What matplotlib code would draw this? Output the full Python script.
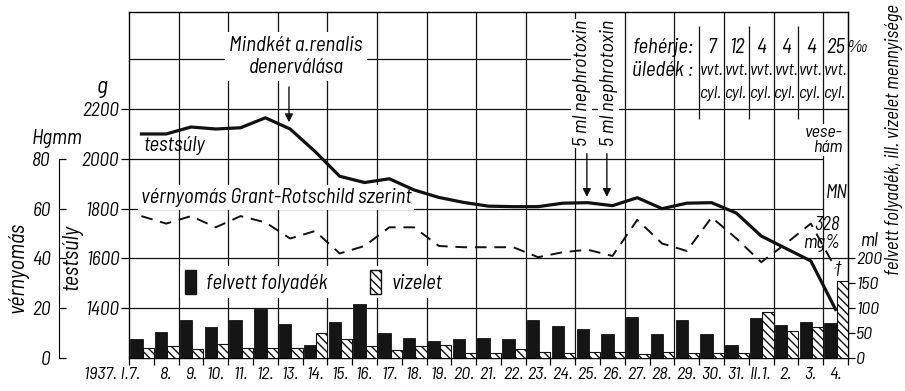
import matplotlib
matplotlib.use("Agg")
import matplotlib.pyplot as plt
from matplotlib.patches import Patch

# day labels (1937 Jan 7 - Feb 4)
day_labels = ["1937. I.7.", "8.", "9.", "10.", "11.", "12.", "13.", "14.", "15.", "16.",
              "17.", "18.", "19.", "20.", "21.", "22.", "23.", "24.", "25.", "26.",
              "27.", "28.", "29.", "30.", "31.", "II.1.", "2.", "3.", "4."]

# body weight, g
testsuly = [2100, 2100, 2128, 2120, 2125, 2165, 2120, 2030, 1930, 1905,
            1920, 1875, 1845, 1825, 1810, 1808, 1808, 1822, 1824, 1812,
            1844, 1800, 1822, 1824, 1782, 1690, 1640, 1590, 1395]

# blood pressure, Hgmm
vernyomas = [57, 54, 57, 52.5, 57, 54.5, 48, 51, 42, 45,
             52.5, 52.5, 45, 44.5, 44.5, 44.5, 40.5, 42.5, 43.5, 41,
             55.5, 46, 43, 56.5, 48, 38.5, 46, 54, 36]

# fluid intake and urine, ml
folyadek = [38, 52, 76, 62, 76, 98, 68, 26, 72, 108,
            50, 40, 34, 38, 40, 38, 76, 64, 58, 48,
            82, 48, 76, 48, 26, 80, 66, 72, 70]
vizelet = [20, 24, 18, 28, 20, 20, 20, 50, 38, 24,
           16, 24, 26, 10, 10, 18, 12, 10, 12, 12,
           8, 12, 10, 10, 10, 92, 54, 62, 154]

# urine protein, last six days
feherje = ["7", "12", "4", "4", "4", "25"]

plt.rcParams['font.family'] = ['Barlow Semi Condensed', 'DejaVu Sans']
plt.rcParams['font.style'] = 'italic'
plt.rcParams['hatch.linewidth'] = 1.0

W, H = 905, 391
fig = plt.figure(figsize=(W / 100, H / 100), dpi=100)

def fx(px):
    return px / W

def fy(py):
    return 1 - py / H

ax = fig.add_axes([fx(129), fy(358), (848 - 129) / W, (358 - 12) / H])
n = len(testsuly)
ax.set_xlim(0, n)
ax.set_ylim(1200, 2590)

# grid
for gv, xmax in [(1400, n), (1600, n), (1800, n - 1), (2000, n - 1), (2200, n), (2400, 18)]:
    ax.hlines(gv, 0, xmax, color='#111', lw=0.9, zorder=1)
ax.vlines(range(2, n, 2), 1200, 2590, color='#111', lw=0.9, zorder=1)
ax.vlines([23, 25, 27], 2160, 2535, color='#111', lw=0.9, zorder=1)

x = [i + 0.5 for i in range(n)]
ax.plot(x, testsuly, color='#111', lw=2.3, zorder=5, solid_joinstyle='round')

ax.set_yticks([1400, 1600, 1800, 2000, 2200])
ax.tick_params(axis='y', direction='out', length=6, width=0.9, pad=1, labelsize=14)
ax.set_xticks(range(n + 1))
ax.tick_params(axis='x', direction='out', length=5, width=0.9, labelbottom=False)
for s in ax.spines.values():
    s.set_linewidth(1.0)

for i, lab in enumerate(day_labels):
    ha = 'right' if i == 0 else 'center'
    xi = 0.45 if i == 0 else i + 0.5
    ax.text(xi, -0.025, lab, transform=ax.get_xaxis_transform(), ha=ha, va='top', fontsize=13)

# bars on ml scale
ax_ml = ax.twinx()
ax_ml.set_ylim(0, (2590 - 1200) / 2)
ax_ml.bar([i + 0.05 for i in range(n)], folyadek, width=0.5, align='edge',
          color='#151515', edgecolor='#151515', lw=0.6, zorder=3)
ax_ml.bar([i + 0.55 for i in range(n)], vizelet, width=0.45, align='edge',
          color='white', edgecolor='#111', hatch='\\\\\\\\', lw=0.8, zorder=3)
ax_ml.set_yticks([0, 50, 100, 150, 200])
ax_ml.tick_params(axis='y', direction='out', length=5, width=0.9, pad=1, labelsize=13)
for k in ['top', 'bottom', 'left']:
    ax_ml.spines[k].set_visible(False)

# blood pressure on Hgmm scale
ax_bp = ax.twinx()
ax_bp.set_ylim(0, (2590 - 1200) / 10)
ax_bp.plot(x, vernyomas, color='#111', lw=1.4, ls=(0, (6, 4)), zorder=4)
ax_bp.yaxis.tick_left()
ax_bp.spines['left'].set_position(('outward', 50.4))
ax_bp.spines['left'].set_bounds(0, 80)
for k in ['top', 'bottom', 'right']:
    ax_bp.spines[k].set_visible(False)
ax_bp.set_yticks([0, 20, 40, 60, 80])
ax_bp.tick_params(axis='y', direction='in', length=5, width=0.9, pad=6, labelsize=14)

white = dict(facecolor='white', edgecolor='none', pad=2)

def d(px):
    return (px - 129) / 24.8

def g(py):
    return 1200 + (358 - py) * 4

ax.text(d(296), g(55), "Mindkét a.renalis\ndenerválása", ha='center', va='center',
        fontsize=15, linespacing=1.2, bbox=dict(facecolor='white', edgecolor='none', pad=3), zorder=3)
ax.annotate("", xy=(d(289), g(124)), xytext=(d(289), g(83)),
            arrowprops=dict(arrowstyle='-|>', color='#111', lw=1.0, mutation_scale=12), zorder=6)
ax.text(d(175), g(145), "testsúly", ha='center', va='center', fontsize=15, zorder=3)
ax.text(d(276), g(197), "vérnyomás Grant-Rotschild szerint", ha='center', va='center',
        fontsize=15, bbox=white, zorder=3)

for px_t, px_a in [(582, 587), (609, 607)]:
    ax.text(d(px_t), g(82), "5 ml nephrotoxin", rotation=90, ha='center', va='center',
            fontsize=14.5, bbox=dict(facecolor='white', edgecolor='none', pad=1), zorder=3)
    ax.annotate("", xy=(d(px_a), g(199)), xytext=(d(px_a), g(150)),
                arrowprops=dict(arrowstyle='-|>', color='#111', lw=1.0, mutation_scale=12), zorder=6)

ax.text(d(694), g(46), "fehérje:", ha='right', va='center', fontsize=15)
ax.text(d(694), g(69), "üledék :", ha='right', va='center', fontsize=15)
for j, v in enumerate(feherje):
    c = 23 + j
    ax.text(c + 0.5, g(46), v, ha='center', va='center', fontsize=15)
    ax.text(c + 0.03, g(69), "vvt.", ha='left', va='center', fontsize=12.5)
    ax.text(c + 0.03, g(92), "cyl.", ha='left', va='center', fontsize=12.5)
ax.text(d(858), g(46), "‰", ha='center', va='center', fontsize=13, clip_on=False)

ax.text(d(843), g(139), "vese-\nhám", ha='right', va='center', fontsize=13, multialignment='right',
        linespacing=0.95, bbox=dict(facecolor='white', edgecolor='none', pad=1), zorder=3)
ax.text(n - 0.45, g(192), "MN", ha='center', va='center', fontsize=13.5)
ax.text(d(840), g(233), "328\nmg%", ha='right', va='center', fontsize=13.5, linespacing=1.0)
ax.text(d(838), g(268), "†", ha='center', va='center', fontsize=13)

ax.legend(handles=[Patch(facecolor='#151515', edgecolor='#151515'),
                   Patch(facecolor='white', edgecolor='#111', hatch='\\\\\\\\')],
          labels=["felvett folyadék", "vizelet"], ncol=2, loc='center left',
          bbox_to_anchor=(d(170) / n, (358 - 282) / 346), frameon=True, framealpha=1,
          edgecolor='none', fancybox=False, borderpad=0.2, handlelength=0.55,
          handleheight=1.4, handletextpad=0.5, columnspacing=2.0, fontsize=15)

# outer labels
fig.text(fx(102), fy(88), "g", ha='center', va='center', fontsize=17)
fig.text(fx(57), fy(138), "Hgmm", ha='center', va='center', fontsize=15)
fig.text(fx(18), fy(267), "vérnyomás", rotation=90, ha='center', va='center', fontsize=16)
fig.text(fx(72), fy(257), "testsúly", rotation=90, ha='center', va='center', fontsize=16)
fig.text(fx(869), fy(241), "ml", ha='center', va='center', fontsize=14)
fig.text(fx(894), fy(140), "felvett folyadék, ill. vizelet mennyisége", rotation=90,
         ha='center', va='center', fontsize=13.5)

fig.savefig("out.png", dpi=100)
